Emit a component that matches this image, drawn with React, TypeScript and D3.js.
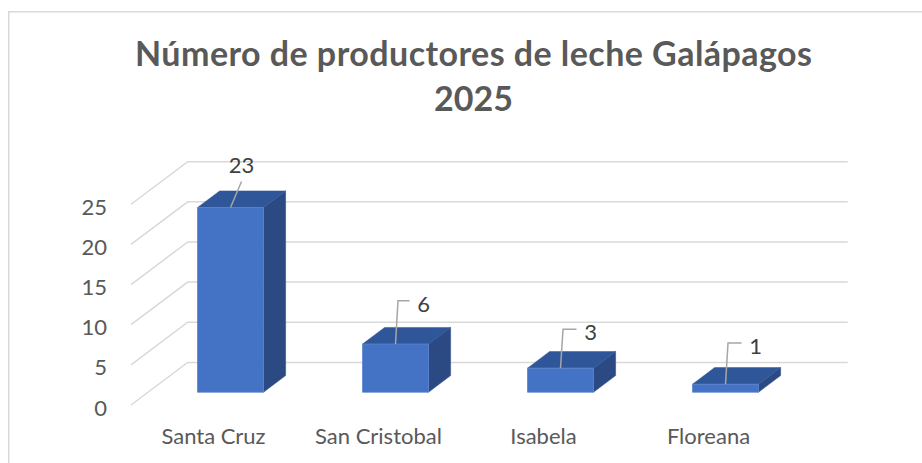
import React from 'react';
import { scaleBand, scaleLinear, line } from 'd3';

const categories = ['Santa Cruz', 'San Cristobal', 'Isabela', 'Floreana'];
const values = [23, 6, 3, 1];
const yTicks = [0, 5, 10, 15, 20, 25];
const titleLines = ['Número de productores de leche Galápagos', '2025'];

const svgWidth = 922;
const svgHeight = 463;

// oblique 3D: floor front edge and how far the back wall is shifted
const front = { left: 131, right: 791, bottom: 405, top: 204.25 };
const depth = { dx: 56.7, dy: 42.6 };
const barDepth = [0.3, 0.69];

// where Excel left each data label, relative to the bar's front top edge
const labelShift: Array<[number, number, boolean]> = [
    [11, -43, false],
    [28, -41, true],
    [30, -36.5, true],
    [30, -39, true]
];

const font = 'Lato, "Open Sans", sans-serif';

const App = () => {
    let x = scaleBand<string>().domain(categories).range([front.left, front.right]).paddingInner(0).paddingOuter(0);
    let y = scaleLinear().domain([0, 25]).range([front.bottom, front.top]);

    // project a point from the front plane back by z (0 = front, 1 = back wall)
    const proj = (px: number, py: number, z: number): [number, number] => [px + z * depth.dx, py - z * depth.dy];
    const pathOf = (pts: Array<[number, number]>) => line()(pts) + 'Z';
    const seg = line();

    let grid = yTicks.map(t => {
        let a = proj(front.left, y(t), 0);
        let b = proj(front.left, y(t), 1);
        let c = proj(front.right, y(t), 1);
        return <path key={'g' + t} d={seg([a, b, c])} fill='none' stroke='#d9d9d9' strokeWidth={1.5} />;
    });

    let axisLabels = yTicks.map(t => (
        <text key={'t' + t} x={107} y={y(t) + 2} textAnchor='end' dominantBaseline='central' fontSize={22} fill='#595959' fontFamily={font}>{t}</text>
    ));

    let bars = categories.map((cat, i) => {
        let cx = x(cat) + x.bandwidth() / 2;
        let w = x.bandwidth() * 0.4;
        let x0 = cx - w / 2, x1 = cx + w / 2;
        let yb = y(0), yt = y(values[i]);
        let [z0, z1] = barDepth;
        let frontFace = [proj(x0, yb, z0), proj(x1, yb, z0), proj(x1, yt, z0), proj(x0, yt, z0)];
        let side = [proj(x1, yb, z0), proj(x1, yb, z1), proj(x1, yt, z1), proj(x1, yt, z0)];
        let top = [proj(x0, yt, z0), proj(x1, yt, z0), proj(x1, yt, z1), proj(x0, yt, z1)];

        let anchor = proj(cx, yt, z0);
        let [sx, sy, elbow] = labelShift[i];
        let lx = anchor[0] + sx, ly = anchor[1] + sy;
        let leader = elbow
            ? seg([anchor, [anchor[0] + 2.5, ly - 2.3], [lx - 14, ly - 2.3]])
            : seg([anchor, [lx, ly + 17]]);

        return (
            <g key={cat}>
                <path d={pathOf(side)} fill='#2b4a84' stroke='#2b4a84' strokeWidth={0.5} />
                <path d={pathOf(top)} fill='#30569a' stroke='#30569a' strokeWidth={0.5} />
                <path d={pathOf(frontFace)} fill='#4472c4' stroke='#5a84cf' strokeWidth={0.8} />
                <path d={leader} fill='none' stroke='#a6a6a6' strokeWidth={1.5} />
                <text x={lx} y={ly} textAnchor='middle' dominantBaseline='central' fontSize={22} fill='#404040' fontFamily={font}>{values[i]}</text>
                <text x={cx} y={444} textAnchor='middle' fontSize={22} fill='#595959' fontFamily={font}>{cat}</text>
            </g>
        );
    });

    return (
        <svg width={svgWidth} height={svgHeight} style={{ position: 'absolute', left: 0, top: 0, background: '#fff' }}>
            <rect x={8.75} y={11.75} width={960} height={500} fill='#fff' stroke='#d9d9d9' strokeWidth={1.5} />
            {titleLines.map((t, i) => (
                <text key={t} x={473.5} y={66 + i * 44.7} textAnchor='middle' fontSize={34} fontWeight='bold' fill='#595959' fontFamily={font}
                    textLength={i == 0 ? 677 : undefined} lengthAdjust='spacing'>{t}</text>
            ))}
            <g>{grid}</g>
            <g>{axisLabels}</g>
            <g>{bars}</g>
        </svg>
    );
}

export default App;
